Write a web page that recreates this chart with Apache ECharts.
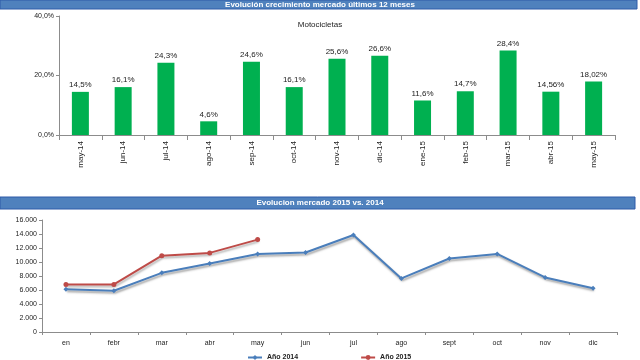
<!DOCTYPE html>
<html><head><meta charset="utf-8">
<script src="https://cdn.jsdelivr.net/npm/echarts@6/dist/echarts.min.js"></script>
<style>html,body{margin:0;padding:0;background:#fff}#c{width:640px;height:360px}</style>
</head><body><div id="c"></div>
<script>
const barCategories = ['may-14','jun-14','jul-14','ago-14','sep-14','oct-14','nov-14','dic-14','ene-15','feb-15','mar-15','abr-15','may-15'];
const barValues = [14.5,16.1,24.3,4.6,24.6,16.1,25.6,26.6,11.6,14.7,28.4,14.56,18.02];
const barLabels = ['14,5%','16,1%','24,3%','4,6%','24,6%','16,1%','25,6%','26,6%','11,6%','14,7%','28,4%','14,56%','18,02%'];
const months = ['en','febr','mar','abr','may','jun','jul','ago','sept','oct','nov','dic'];
const ventas2014 = [6100,5900,8450,9800,11150,11350,13850,7650,10500,11150,7800,6250];
const ventas2015 = [6800,6800,10900,11300,13200];
const font = 'Liberation Sans';
const chart = echarts.init(document.getElementById('c'));
const axisCol = '#8c8c8c';
chart.setOption({
  animation:false,
  textStyle:{fontFamily:font},
  graphic:[
    {type:'rect',shape:{x:0,y:0,width:637,height:9},style:{fill:'#4f81bd',stroke:'#2f5aa8',lineWidth:1}},
    {type:'text',x:320,y:0.5,style:{text:'Evolución crecimiento mercado últimos 12 meses',fill:'#fff',font:'bold 8px '+font,textAlign:'center'}},
    {type:'text',x:320,y:21,style:{text:'Motocicletas',fill:'#222',font:'8px '+font,textAlign:'center'}},
    {type:'rect',shape:{x:0,y:197,width:635,height:12},style:{fill:'#4f81bd',stroke:'#2f5aa8',lineWidth:1}},
    {type:'text',x:320,y:199,style:{text:'Evolucion mercado 2015 vs. 2014',fill:'#fff',font:'bold 8px '+font,textAlign:'center'}}
  ],
  legend:{left:242,top:349,itemGap:62,itemWidth:14,itemHeight:6,
    textStyle:{fontSize:7,color:'#222',fontWeight:'bold'},
    data:['Año 2014','Año 2015']},
  grid:[
    {left:59,top:16,width:556,height:119},
    {left:42,top:220,width:575,height:112}
  ],
  xAxis:[
    {gridIndex:0,type:'category',data:barCategories,
     axisLine:{lineStyle:{color:axisCol}},
     axisTick:{show:true,length:5,lineStyle:{color:axisCol}},
     axisLabel:{rotate:90,fontSize:8,color:'#222',margin:6}},
    {gridIndex:1,type:'category',data:months,
     axisLine:{lineStyle:{color:axisCol}},
     axisTick:{show:true,length:3,lineStyle:{color:axisCol}},
     axisLabel:{fontSize:7,color:'#222',margin:8}}
  ],
  yAxis:[
    {gridIndex:0,type:'value',min:0,max:40,interval:20,
     axisLine:{show:true,lineStyle:{color:axisCol}},
     axisTick:{show:true,length:3,lineStyle:{color:axisCol}},
     splitLine:{show:false},
     axisLabel:{fontSize:7,color:'#222',margin:5,formatter:v=>v.toFixed(1).replace('.',',')+'%'}},
    {gridIndex:1,type:'value',min:0,max:16000,interval:2000,
     axisLine:{show:true,lineStyle:{color:axisCol}},
     axisTick:{show:true,length:3,lineStyle:{color:axisCol}},
     splitLine:{show:false},
     axisLabel:{fontSize:7,color:'#222',margin:5,formatter:v=>v===0?'0':(v/1000).toFixed(3).replace('.','.')}}
  ],
  series:[
    {type:'bar',xAxisIndex:0,yAxisIndex:0,data:barValues,barWidth:17,
     itemStyle:{color:'#00b050'},
     label:{show:true,position:'top',fontSize:8,color:'#222',distance:3,
       formatter:p=>barLabels[p.dataIndex]}},
    {type:'line',name:'Año 2014',xAxisIndex:1,yAxisIndex:1,data:ventas2014,
     symbol:'diamond',symbolSize:5,
     lineStyle:{color:'#4a7ebb',width:2,shadowColor:'rgba(90,90,90,0.55)',shadowBlur:2,shadowOffsetX:1,shadowOffsetY:2},
     itemStyle:{color:'#4a7ebb'}},
    {type:'line',name:'Año 2015',xAxisIndex:1,yAxisIndex:1,data:ventas2015,
     symbol:'circle',symbolSize:5,
     lineStyle:{color:'#be4b48',width:2,shadowColor:'rgba(90,90,90,0.45)',shadowBlur:2,shadowOffsetX:1,shadowOffsetY:2},
     itemStyle:{color:'#be4b48'}}
  ]
});
</script></body></html>
